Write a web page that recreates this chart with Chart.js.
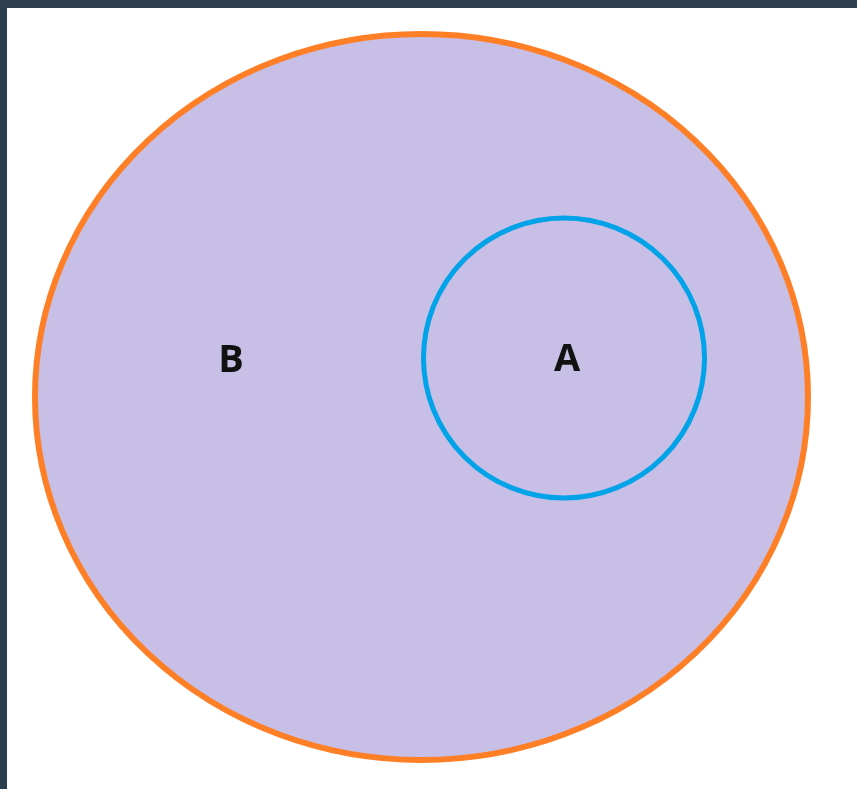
<!DOCTYPE html>
<html>
<head>
<meta charset="utf-8">
<script src="https://cdn.jsdelivr.net/npm/chart.js@4/dist/chart.umd.min.js"></script>
<style>
  html, body { margin: 0; padding: 0; width: 857px; height: 789px; background: #2c3e50; overflow: hidden; }
  #wrap { position: absolute; left: 7px; top: 8px; width: 850px; height: 781px; background: #ffffff; }
</style>
</head>
<body>
<div id="wrap"><canvas id="c"></canvas></div>
<script>
// Venn sets (page coordinates)
const setLabels = ['B', 'A'];
const centerX = [421.5, 564];
const centerY = [397, 358];
const radiusX = [386.5, 140.5];
const radiusY = [363, 140];
const labelX = [231, 567];
const labelY = [361, 360];
const fillColors = ['#C8BFE7', 'rgba(0,0,0,0)'];
const strokeColors = ['#FF7F27', '#00A2E8'];
const strokeWidths = [6, 5];

const vennPlugin = {
  id: 'venn',
  afterDatasetsDraw(chart) {
    const ctx = chart.ctx;
    const xs = chart.scales.x, ys = chart.scales.y;
    chart.data.datasets.forEach((ds, i) => {
      const p = ds.data[0];
      const cx = xs.getPixelForValue(p.x);
      const cy = ys.getPixelForValue(p.y);
      const rx = Math.abs(xs.getPixelForValue(p.x + p.rx) - cx);
      const ry = Math.abs(ys.getPixelForValue(p.y + p.ry) - cy);
      ctx.save();
      ctx.beginPath();
      ctx.ellipse(cx, cy, rx, ry, 0, 0, Math.PI * 2);
      ctx.fillStyle = ds.fillColor;
      ctx.fill();
      ctx.lineWidth = ds.strokeWidth;
      ctx.strokeStyle = ds.strokeColor;
      ctx.stroke();
      ctx.restore();
    });
    chart.data.datasets.forEach((ds) => {
      ctx.save();
      ctx.fillStyle = '#111111';
      ctx.font = 'bold 38px "Open Sans", "DejaVu Sans", sans-serif';
      ctx.textAlign = 'center';
      ctx.textBaseline = 'middle';
      ctx.fillText(ds.label, xs.getPixelForValue(ds.labelPos.x), ys.getPixelForValue(ds.labelPos.y));
      ctx.restore();
    });
  }
};

const datasets = setLabels.map((lab, i) => ({
  label: lab,
  data: [{ x: centerX[i], y: centerY[i], r: 0, rx: radiusX[i], ry: radiusY[i] }],
  labelPos: { x: labelX[i], y: labelY[i] },
  fillColor: fillColors[i],
  strokeColor: strokeColors[i],
  strokeWidth: strokeWidths[i],
  pointRadius: 0,
  backgroundColor: 'rgba(0,0,0,0)',
  borderColor: 'rgba(0,0,0,0)'
}));

new Chart(document.getElementById('c'), {
  type: 'bubble',
  data: { datasets },
  options: {
    responsive: true,
    maintainAspectRatio: false,
    animation: false,
    layout: { padding: 0 },
    plugins: { legend: { display: false }, tooltip: { enabled: false } },
    scales: {
      x: { type: 'linear', min: 7, max: 857, display: false },
      y: { type: 'linear', min: 8, max: 789, reverse: true, display: false }
    }
  },
  plugins: [vennPlugin]
});
</script>
</body>
</html>
